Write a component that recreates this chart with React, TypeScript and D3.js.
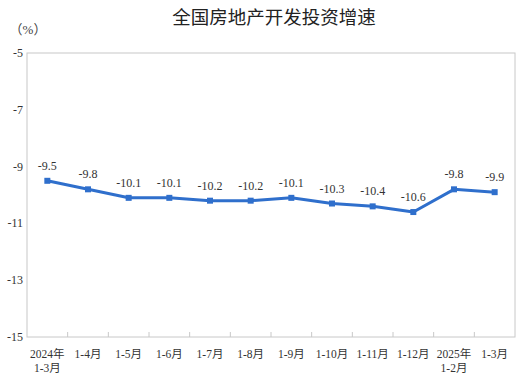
import React from "react";
import * as d3 from "d3";

const categories = ["2024年|1-3月", "1-4月", "1-5月", "1-6月", "1-7月", "1-8月", "1-9月", "1-10月", "1-11月", "1-12月", "2025年|1-2月", "1-3月"];
const values = [-9.5, -9.8, -10.1, -10.1, -10.2, -10.2, -10.1, -10.3, -10.4, -10.6, -9.8, -9.9];
const yTicks = [-5, -7, -9, -11, -13, -15];
const title = "全国房地产开发投资增速";
const unit = "（%）";

const W = 519, H = 381;
const L = 27, R = 515, T = 53, B = 337;
const FONT = "'Liberation Serif', 'Times New Roman', 'Noto Sans CJK SC', serif";

export default function App() {
  const x = d3.scaleBand<number>().domain(d3.range(categories.length)).range([L, R]);
  const y = d3.scaleLinear().domain([-15, -5]).range([B, T]);
  const cx = (i: number) => (x(i) as number) + x.bandwidth() / 2;
  const line = d3.line<number>().x((_, i) => cx(i)).y((d) => y(d));
  return (
    <svg width={W} height={H} style={{ position: "absolute", left: 0, top: 0, background: "#fff" }}>
      <text x={274} y={24} textAnchor="middle" fontFamily="'Noto Sans CJK SC', sans-serif" fontSize={18.5} fill="#222">{title}</text>
      <text x={28} y={34} textAnchor="middle" fontFamily={FONT} fontSize={13} fill="#444">{unit}</text>
      <rect x={L} y={T} width={R - L} height={B - T} fill="none" stroke="#c8c8c8" strokeWidth={1} />
      {d3.range(1, categories.length).map((i) => (
        <line key={i} x1={x(i) as number} x2={x(i) as number} y1={B} y2={B - 5} stroke="#c8c8c8" />
      ))}
      {yTicks.map((t) => (
        <text key={t} x={23} y={y(t) + 4} textAnchor="end" fontFamily={FONT} fontSize={12} fill="#333">{t}</text>
      ))}
      {categories.map((c, i) => {
        const parts = c.split("|");
        return (
          <text key={i} x={cx(i)} y={358} textAnchor="middle" fontFamily={FONT} fontSize={11.5} fill="#333">
            {parts.map((p, j) => (
              <tspan key={j} x={cx(i)} dy={j === 0 ? 0 : 14}>{p}</tspan>
            ))}
          </text>
        );
      })}
      <path d={line(values) || ""} fill="none" stroke="#2f6fcc" strokeWidth={3} strokeLinejoin="round" />
      {values.map((v, i) => (
        <rect key={i} x={cx(i) - 3} y={y(v) - 3} width={6} height={6} fill="#2f6fcc" />
      ))}
      {values.map((v, i) => (
        <text key={i} x={cx(i)} y={y(v) - 11} textAnchor="middle" fontFamily={FONT} fontSize={12} fill="#333">{v.toFixed(1)}</text>
      ))}
    </svg>
  );
}
